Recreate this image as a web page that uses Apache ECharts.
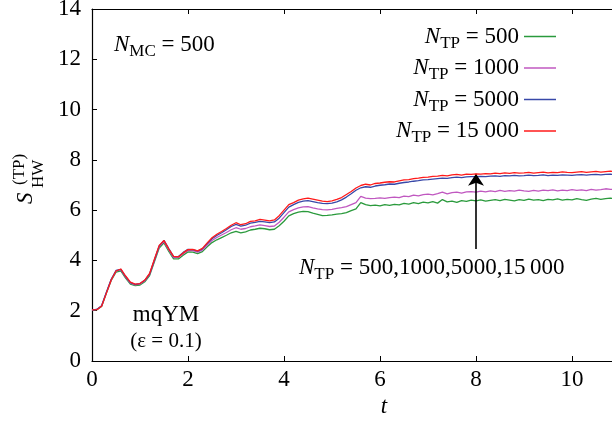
<!DOCTYPE html>
<html>
<head>
<meta charset="utf-8">
<script src="https://cdn.jsdelivr.net/npm/echarts@6/dist/echarts.min.js"></script>
<style>html,body{margin:0;padding:0;background:#fff}#c{width:612px;height:421px}</style>
</head>
<body>
<div id="c"></div>
<script>
// ---- data ----
const tValues = [0,0.1,0.2,0.3,0.4,0.5,0.6,0.7,0.8,0.9,1,1.1,1.2,1.3,1.4,1.5,1.6,1.7,1.8,1.9,2,2.1,2.2,2.3,2.4,2.5,2.6,2.7,2.8,2.9,3,3.1,3.2,3.3,3.4,3.5,3.6,3.7,3.8,3.9,4,4.1,4.2,4.3,4.4,4.5,4.6,4.7,4.8,4.9,5,5.1,5.2,5.3,5.4,5.5,5.6,5.7,5.8,5.9,6,6.1,6.2,6.3,6.4,6.5,6.6,6.7,6.8,6.9,7,7.1,7.2,7.3,7.4,7.5,7.6,7.7,7.8,7.9,8,8.1,8.2,8.3,8.4,8.5,8.6,8.7,8.8,8.9,9,9.1,9.2,9.3,9.4,9.5,9.6,9.7,9.8,9.9,10,10.1,10.2,10.3,10.4,10.5,10.6,10.7,10.8,10.9,11];
const seriesNames = ['500','1000','5000','15 000'];
const s500 = [2.02,2.04,2.17,2.70,3.20,3.53,3.58,3.30,3.06,3.00,3.02,3.15,3.40,3.95,4.49,4.70,4.36,4.06,4.06,4.21,4.34,4.33,4.27,4.35,4.54,4.71,4.82,4.91,5.00,5.10,5.16,5.10,5.14,5.21,5.24,5.28,5.26,5.22,5.24,5.38,5.56,5.77,5.86,5.92,5.95,5.94,5.88,5.83,5.78,5.79,5.81,5.84,5.86,5.90,5.98,6.05,6.30,6.22,6.18,6.20,6.17,6.22,6.19,6.23,6.21,6.27,6.24,6.30,6.26,6.32,6.29,6.34,6.28,6.42,6.33,6.36,6.31,6.38,6.35,6.40,6.37,6.41,6.36,6.39,6.42,6.38,6.43,6.40,6.37,6.42,6.39,6.44,6.40,6.42,6.38,6.43,6.41,6.45,6.40,6.43,6.41,6.46,6.42,6.39,6.44,6.47,6.43,6.46,6.48,6.44,6.47];
const s1000 = [2.03,2.05,2.19,2.72,3.23,3.57,3.63,3.34,3.10,3.03,3.06,3.19,3.45,4.00,4.55,4.75,4.42,4.11,4.12,4.27,4.40,4.39,4.33,4.41,4.61,4.79,4.91,5.01,5.11,5.22,5.30,5.24,5.27,5.34,5.37,5.41,5.38,5.35,5.37,5.52,5.72,5.93,6.02,6.09,6.13,6.14,6.09,6.05,6.02,6.01,6.03,6.07,6.10,6.14,6.22,6.30,6.55,6.48,6.46,6.47,6.49,6.47,6.50,6.52,6.50,6.56,6.54,6.60,6.57,6.62,6.64,6.61,6.66,6.72,6.65,6.70,6.72,6.68,6.73,6.74,6.72,6.76,6.73,6.77,6.74,6.79,6.75,6.78,6.76,6.80,6.77,6.75,6.79,6.76,6.80,6.78,6.81,6.77,6.80,6.78,6.82,6.79,6.81,6.78,6.83,6.80,6.82,6.85,6.83,6.81,6.84];
const s5000 = [2.02,2.05,2.20,2.74,3.25,3.60,3.64,3.36,3.12,3.05,3.08,3.21,3.46,4.02,4.58,4.80,4.47,4.15,4.16,4.32,4.44,4.43,4.37,4.46,4.67,4.86,4.99,5.10,5.22,5.35,5.43,5.36,5.40,5.48,5.51,5.55,5.53,5.50,5.53,5.68,5.90,6.12,6.22,6.31,6.36,6.38,6.34,6.30,6.27,6.26,6.28,6.33,6.41,6.52,6.65,6.79,6.89,6.93,6.91,6.96,6.99,7.01,7.04,7.03,7.07,7.10,7.12,7.15,7.17,7.20,7.21,7.23,7.25,7.27,7.26,7.29,7.31,7.29,7.32,7.33,7.33,7.34,7.33,7.35,7.36,7.34,7.37,7.36,7.38,7.36,7.37,7.39,7.37,7.38,7.40,7.37,7.39,7.38,7.40,7.39,7.38,7.40,7.41,7.39,7.41,7.42,7.40,7.42,7.43,7.41,7.42];
const s15000 = [2.03,2.04,2.18,2.70,3.22,3.58,3.66,3.38,3.14,3.06,3.08,3.22,3.48,4.05,4.60,4.79,4.45,4.16,4.14,4.30,4.43,4.44,4.38,4.48,4.70,4.90,5.04,5.15,5.27,5.40,5.50,5.42,5.46,5.55,5.57,5.63,5.60,5.57,5.61,5.78,6.00,6.22,6.30,6.40,6.45,6.48,6.44,6.40,6.36,6.34,6.37,6.43,6.50,6.62,6.74,6.88,6.98,7.03,7.00,7.06,7.08,7.11,7.13,7.12,7.16,7.20,7.21,7.25,7.27,7.30,7.31,7.34,7.35,7.38,7.36,7.40,7.42,7.39,7.43,7.42,7.44,7.43,7.45,7.44,7.47,7.45,7.48,7.46,7.49,7.47,7.48,7.50,7.47,7.49,7.51,7.48,7.50,7.49,7.52,7.50,7.49,7.51,7.53,7.50,7.52,7.54,7.51,7.53,7.55,7.52,7.54];
const seriesValues = [s500, s1000, s5000, s15000];
const seriesColors = ['#2a9a3c', '#c058c0', '#3848a8', '#ff1a1a'];
const yTicks = [0,2,4,6,8,10,12,14];
const arrowFrom = [8, 4.45];
const arrowTo = [8, 7.45];

// ---- chart ----
const FONT = "'Liberation Serif','Times New Roman',serif";
const rich = {
  i: {fontFamily: FONT, fontStyle: 'italic', fontSize: 23, color: '#000'},
  s: {fontFamily: FONT, fontSize: 17, color: '#000', padding: [14, 0, 0, 0]},
  r: {fontFamily: FONT, fontSize: 23, color: '#000'}
};
const chart = echarts.init(document.getElementById('c'), null, {renderer: 'canvas'});
const pair = (i, arr) => tValues.map((t, k) => [t, arr[k]]);
const series = seriesNames.map((n, i) => ({
  name: n,
  type: 'line',
  data: pair(i, seriesValues[i]),
  showSymbol: false,
  lineStyle: {width: 1.3, color: seriesColors[i]},
  itemStyle: {color: seriesColors[i]},
  animation: false,
  z: 2 + i
}));
series[3].markLine = {
  silent: true,
  animation: false,
  symbol: ['none', 'arrow'],
  symbolSize: 12,
  label: {show: false},
  lineStyle: {color: '#000', width: 1.6, type: 'solid'},
  data: [[{coord: arrowFrom}, {coord: arrowTo}]]
};

chart.setOption({
  animation: false,
  backgroundColor: '#fff',
  grid: {left: 92, top: 9, right: -56, bottom: 60, outerBoundsMode: 'none', containLabel: false},
  legend: {
    data: seriesNames,
    orient: 'vertical',
    align: 'right',
    right: 56,
    top: 25,
    padding: 0,
    itemGap: 4.5,
    itemWidth: 32,
    itemHeight: 1.5,
    icon: 'rect',
    formatter: n => '{i|N}{s|TP}{r| = ' + n + '}',
    textStyle: {rich: rich}
  },
  xAxis: [{
    type: 'value', min: 0, max: 12, interval: 2,
    name: 't', nameLocation: 'middle', nameGap: 34,
    nameTextStyle: {fontFamily: FONT, fontStyle: 'italic', fontSize: 23, color: '#000', padding: [0, 0, 0, 8]},
    axisLine: {lineStyle: {color: '#000', width: 1.2}},
    axisTick: {inside: true, length: 5, lineStyle: {color: '#000'}},
    axisLabel: {fontFamily: FONT, fontSize: 23, color: '#000', margin: 7},
    splitLine: {show: false}
  }, {
    type: 'value', position: 'top', min: 0, max: 12, interval: 2,
    axisLine: {show: true, lineStyle: {color: '#000', width: 1.2}},
    axisTick: {inside: true, length: 5, lineStyle: {color: '#000'}},
    axisLabel: {show: false},
    splitLine: {show: false}
  }],
  yAxis: {
    type: 'value', min: yTicks[0], max: yTicks[yTicks.length - 1], interval: 2,
    axisLine: {show: true, lineStyle: {color: '#000', width: 1.2}},
    axisTick: {show: true, inside: true, length: 5, lineStyle: {color: '#000'}},
    axisLabel: {fontFamily: FONT, fontSize: 23, color: '#000', margin: 11},
    splitLine: {show: false}
  },
  series: series,
  graphic: [
    {type: 'text', x: 37, y: 204, rotation: Math.PI / 2,
     style: {text: 'S', font: "italic 23px " + FONT, fill: '#000', align: 'left', verticalAlign: 'bottom'}},
    {type: 'text', x: 47, y: 188, rotation: Math.PI / 2,
     style: {text: 'HW', font: "17px " + FONT, fill: '#000', align: 'left', verticalAlign: 'bottom'}},
    {type: 'text', x: 28, y: 185, rotation: Math.PI / 2,
     style: {text: '(TP)', font: "17px " + FONT, fill: '#000', align: 'left', verticalAlign: 'bottom'}},
    {type: 'text', x: 114, y: 45,
     style: {text: '{i|N}{s|MC}{r| = 500}', rich: rich, align: 'left', verticalAlign: 'middle'}},
    {type: 'text', x: 166, y: 315,
     style: {text: 'mqYM', font: "23px " + FONT, fill: '#000', align: 'center', verticalAlign: 'middle'}},
    {type: 'text', x: 166, y: 341,
     style: {text: '(ε = 0.1)', font: "21px " + FONT, fill: '#000', align: 'center', verticalAlign: 'middle'}},
    {type: 'text', x: 299, y: 268,
     style: {text: '{i|N}{s|TP}{r| = 500,1000,5000,15\u2009000}', rich: rich, align: 'left', verticalAlign: 'middle'}}
  ]
});
</script>
</body>
</html>
